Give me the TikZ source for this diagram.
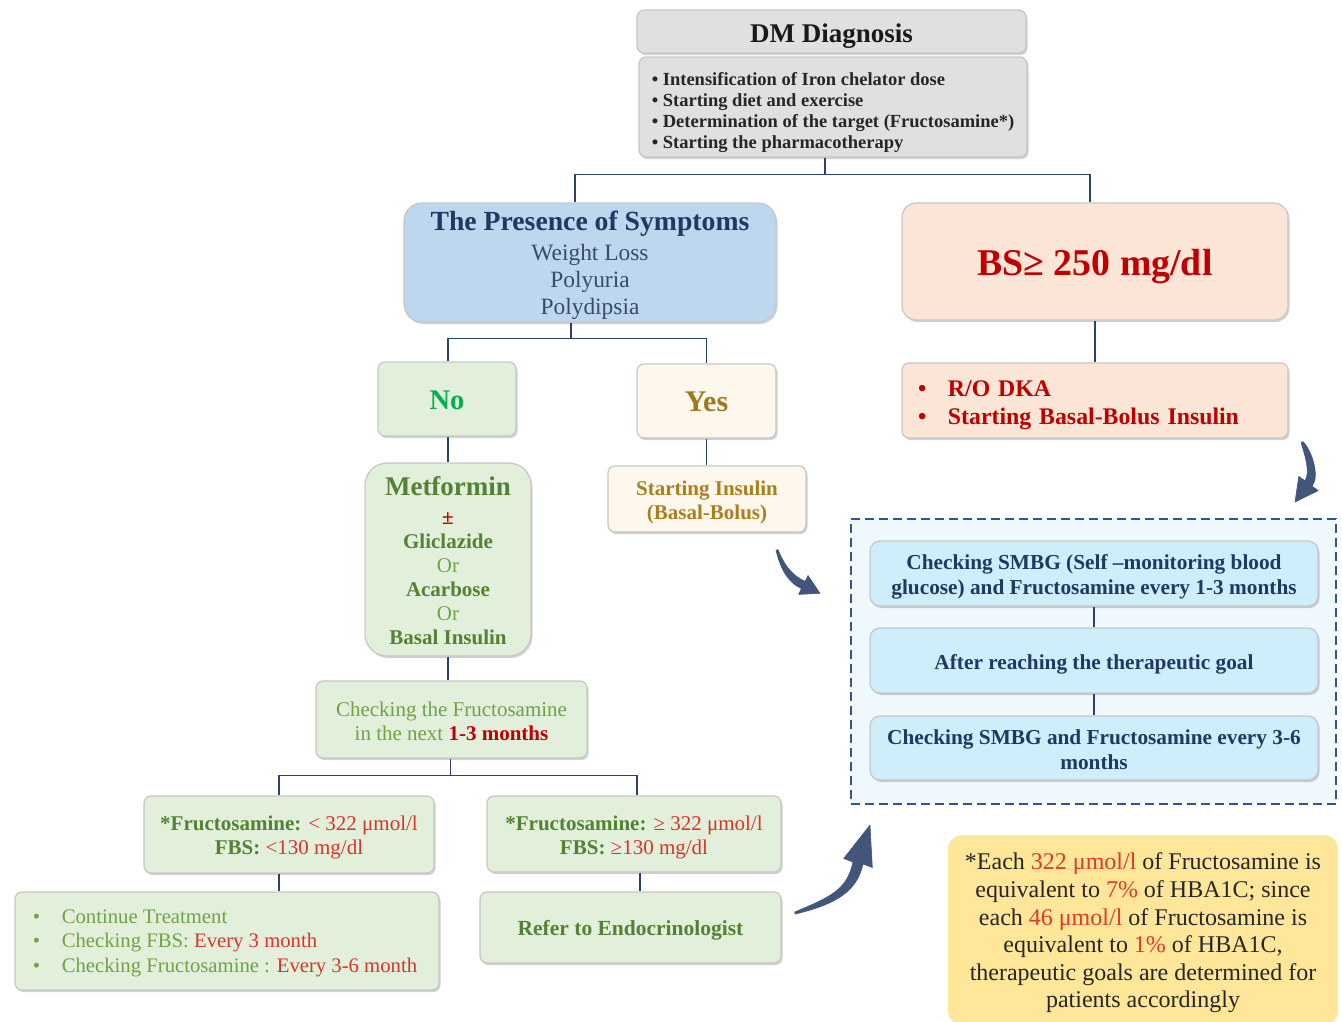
\documentclass[tikz,border=0pt]{standalone}
\usepackage{fontspec}
\setmainfont{Liberation Serif}
\usetikzlibrary{shadows,arrows.meta}
\definecolor{navy}{HTML}{1F3864}
\definecolor{slate}{HTML}{3A4A6B}
\definecolor{dred}{HTML}{C00000}
\definecolor{lred}{HTML}{D9342C}
\definecolor{nred}{HTML}{E0392B}
\definecolor{gbright}{HTML}{00B050}
\definecolor{mgreen}{HTML}{548235}
\definecolor{lgreen}{HTML}{6FA346}
\definecolor{gold}{HTML}{9C7A1A}
\definecolor{goldb}{HTML}{A8801E}
\definecolor{grayf}{HTML}{E0E0E0}
\definecolor{bluef}{HTML}{BDD7EE}
\definecolor{peachf}{HTML}{FBE5D6}
\definecolor{greenf}{HTML}{E2EFDA}
\definecolor{creamf}{HTML}{FDF7EE}
\definecolor{cyanf}{HTML}{CDEEFA}
\definecolor{groupf}{HTML}{EEF8FD}
\definecolor{yellowf}{HTML}{FFE699}
\definecolor{cblue}{HTML}{2F3F6F}
\definecolor{dblue}{HTML}{2F5597}
\definecolor{ablue}{HTML}{42557A}
\newcommand\fs[2]{\fontsize{#1}{#2}\selectfont}
\tikzset{
  bx/.style={rounded corners=7pt, draw=black!22, line width=1.2pt,
    drop shadow={shadow xshift=1.5pt, shadow yshift=-2pt, opacity=0.3, fill=black!60},
    inner sep=0pt},
  tx/.style={align=center, inner sep=0pt},
  conn/.style={draw=cblue, line width=1.6pt},
  tarrow/.style={fill=ablue, draw=ablue, line width=0.6pt, line join=round},
}
\begin{document}
\begin{tikzpicture}[x=1pt,y=-1pt]
\useasboundingbox (0,0) rectangle (1342,1021);

% ---------- boxes ----------
\node[bx, fill=grayf, minimum width=389pt, minimum height=43pt] (dm) at (831.5,31.5) {};
\node[bx, fill=grayf, minimum width=388pt, minimum height=100pt] (act) at (833,107) {};
\node[bx, rounded corners=18pt, fill=bluef, minimum width=372pt, minimum height=119pt] (sym) at (590,262.5) {};
\node[bx, rounded corners=14pt, fill=peachf, minimum width=386pt, minimum height=117pt] (bs) at (1095,261.5) {};
\node[bx, fill=peachf, minimum width=386pt, minimum height=75pt] (ro) at (1095,400.5) {};
\node[bx, fill=greenf, minimum width=138pt, minimum height=74pt] (no) at (447,399) {};
\node[bx, fill=creamf, minimum width=139pt, minimum height=74pt] (yes) at (706.5,401) {};
\node[bx, rounded corners=22pt, fill=greenf, minimum width=166pt, minimum height=193pt] (met) at (448,559.5) {};
\node[bx, fill=creamf, minimum width=198pt, minimum height=66pt] (start) at (707,499) {};
\node[bx, fill=greenf, minimum width=271pt, minimum height=77pt] (check) at (451.5,719.5) {};
\node[bx, fill=greenf, minimum width=290pt, minimum height=77pt] (lf) at (289,834.5) {};
\node[bx, fill=greenf, minimum width=294pt, minimum height=76pt] (rf) at (634,834) {};
\node[bx, fill=greenf, minimum width=424pt, minimum height=98pt] (cont) at (227,941) {};
\node[bx, fill=greenf, minimum width=301pt, minimum height=71pt] (refer) at (630.5,927.5) {};
\node[draw=dblue, dash pattern=on 9pt off 5pt, line width=2.5pt, fill=groupf, minimum width=485pt, minimum height=285pt, inner sep=0pt] (grp) at (1093.5,661.5) {};
\node[bx, rounded corners=10pt, fill=cyanf, minimum width=448pt, minimum height=65pt] (c1) at (1094,573.5) {};
\node[bx, rounded corners=10pt, fill=cyanf, minimum width=448pt, minimum height=65pt] (c2) at (1094,660.5) {};
\node[bx, rounded corners=10pt, fill=cyanf, minimum width=448pt, minimum height=64pt] (c3) at (1094,748) {};
\node[rounded corners=14pt, fill=yellowf, minimum width=390pt, minimum height=190pt, inner sep=0pt] (note) at (1143,930) {};

% ---------- texts ----------
\node[tx, font=\fs{27}{30}\bfseries, text=black!90] (dmT) at (831.5,36) {DM Diagnosis};
\node[tx, align=left, font=\fs{18.5}{21}\bfseries, text=black!85] (actT) at (833,113)
 {\textbullet\ Intensification of Iron chelator dose\\
  \textbullet\ Starting diet and exercise\\
  \textbullet\ Determination of the target (Fructosamine*)\\
  \textbullet\ Starting the pharmacotherapy};
\node[tx, font=\fs{23.4}{27}, text=slate] (symT) at (590,265)
 {{\fs{27.7}{27}\bfseries\color{navy}The Presence of Symptoms}\\[3pt] Weight Loss\\ Polyuria\\ Polydipsia};
\node[tx, font=\fs{37.8}{40}\bfseries, text=dred] (bsT) at (1095,266.5) {BS≥ 250 mg/dl};
\node[tx, text width=354pt, align=left, font=\fs{23.8}{28}\bfseries, text=dred] (roT) at (1095,405)
 {\makebox[30pt][l]{\textbullet}R/O DKA\\ \makebox[30pt][l]{\textbullet}Starting Basal-Bolus Insulin};
\node[tx, font=\fs{28.5}{32}\bfseries, text=gbright] (noT) at (447,400) {No};
\node[tx, font=\fs{30}{32}\bfseries, text=gold] (yesT) at (706.5,401.5) {Yes};
\node[tx, font=\fs{21}{24}\bfseries, text=mgreen] (metT) at (448,561)
 {{\fs{27}{24}Metformin}\\[5pt] {\color{dred}±}\\ Gliclazide\\ {\mdseries\color{lgreen}Or}\\ Acarbose\\ {\mdseries\color{lgreen}Or}\\ Basal Insulin};
\node[tx, font=\fs{21}{24}\bfseries, text=goldb] (startT) at (707,502)
 {Starting Insulin\\ (Basal-Bolus)};
\node[tx, font=\fs{21}{24}, text=lgreen] (checkT) at (451.5,721.5)
 {Checking the Fructosamine\\ in the next {\bfseries\color{dred}1-3 months}};
\node[tx, font=\fs{21}{24}] (lfT) at (289,837.5)
 {{\bfseries\color{mgreen}*Fructosamine:} {\color{lred}< 322 μmol/l}\\ {\bfseries\color{mgreen}FBS:} {\color{lred}<130 mg/dl}};
\node[tx, font=\fs{21}{24}] (rfT) at (634,837)
 {{\bfseries\color{mgreen}*Fructosamine:} {\color{lred}≥ 322 μmol/l}\\ {\bfseries\color{mgreen}FBS:} {\color{lred}≥130 mg/dl}};
\node[tx, align=left, font=\fs{20.7}{24.5}, text=lgreen] (contT) at (225,943)
 {\makebox[29pt][l]{\textbullet}Continue Treatment\\
  \makebox[29pt][l]{\textbullet}Checking FBS: {\color{lred}Every 3 month}\\
  \makebox[29pt][l]{\textbullet}Checking Fructosamine : {\color{lred}Every 3-6 month}};
\node[tx, font=\fs{21.5}{24}\bfseries, text=mgreen] (referT) at (630.5,930.5) {Refer to Endocrinologist};
\node[tx, font=\fs{21.3}{25}\bfseries, text=navy] (c1T) at (1094,576.5)
 {Checking SMBG (Self –monitoring blood\\ glucose) and Fructosamine every 1-3 months};
\node[tx, font=\fs{21.3}{25}\bfseries, text=navy] (c2T) at (1094,664)
 {After reaching the therapeutic goal};
\node[tx, font=\fs{21.3}{25}\bfseries, text=navy] (c3T) at (1094,750)
 {Checking SMBG and Fructosamine every 3-6\\ months};
\node[tx, font=\fs{24}{27.6}, text=black!85] (noteT) at (1143,933)
 {*Each {\color{nred}322 μmol/l} of Fructosamine is\\
  equivalent to {\color{nred}7\%} of HBA1C; since\\
  each {\color{nred}46 μmol/l} of Fructosamine is\\
  equivalent to {\color{nred}1\%} of HBA1C,\\
  therapeutic goals are determined for\\
  patients accordingly};

% ---------- connectors ----------
\draw[conn] ([xshift=-8pt]act.south) -- ++(0,17) coordinate (j1);
\draw[conn] ([xshift=-15pt]sym.north) |- (j1) -| ([xshift=-5pt]bs.north);
\draw[conn] ([xshift=-19pt]sym.south) -- ++(0,16) coordinate (j2);
\draw[conn] ([xshift=1pt]no.north) |- (j2) -| (yes.north);
\draw[conn] (bs.south) -- (ro.north);
\draw[conn] ([xshift=1pt]no.south) -- ([xshift=1pt]no.south |- met.north);
\draw[conn] (yes.south) -- (yes.south |- start.north);
\draw[conn] (met.south) -- (met.south |- check.north);
\draw[conn] ([xshift=-1pt]check.south) -- ++(0,17) coordinate (j3);
\draw[conn] ([xshift=-10pt]lf.north) |- (j3) -| ([xshift=3pt]rf.north);
\draw[conn] ([xshift=-10pt]lf.south) -- ([xshift=-10pt]lf.south |- cont.north);
\draw[conn] ([xshift=6pt]rf.south) -- ([xshift=6pt]rf.south |- refer.north);
\draw[conn] (c1.south) -- (c2.north);
\draw[conn] (c2.south) -- (c3.north);

% ---------- tapered curved arrows ----------
% from R/O box down to the monitoring group
\fill[tarrow] (1303,441.7) .. controls (1312,451) and (1320,476) .. (1312.1,486.2)
  -- (1318.2,490.6) -- (1295,502) -- (1298.8,476.4) -- (1304.9,480.8)
  .. controls (1311,472) and (1304,453) .. (1301,442.3) -- cycle;
% from Starting Insulin to the monitoring group
\fill[tarrow] (778,549.7) .. controls (786,569) and (794,576) .. (805.1,581.4)
  -- (808,575.5) -- (820,593.3) -- (798.6,594.4) -- (801.5,588.6)
  .. controls (789,583) and (781,571) .. (776,550.3) -- cycle;
% from Refer to Endocrinologist up to the monitoring group
\fill[tarrow] (794.7,912) .. controls (833,896) and (847,889) .. (853,862)
  -- (843.7,858.5) -- (870,825) -- (872.3,867.5) -- (863,864)
  .. controls (857,891) and (837,904) .. (795.3,914) -- cycle;
\end{tikzpicture}
\end{document}
